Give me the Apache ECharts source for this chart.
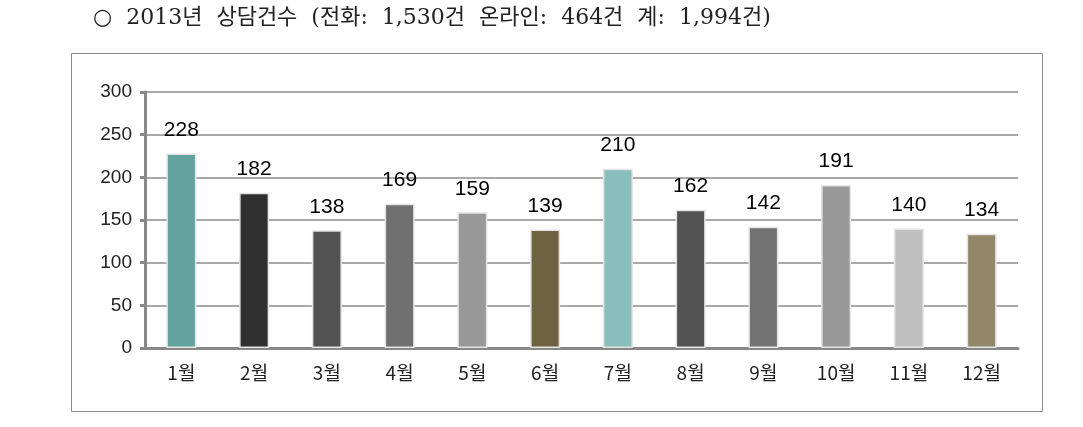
<!DOCTYPE html>
<html><head><meta charset="utf-8">
<script src="https://cdn.jsdelivr.net/npm/echarts@6/dist/echarts.min.js"></script>
<style>html,body{margin:0;padding:0;background:#fff}#c{width:1083px;height:427px}</style>
</head><body><div id="c"></div>
<script>
const categories = ['1월','2월','3월','4월','5월','6월','7월','8월','9월','10월','11월','12월'];
const values = [228,182,138,169,159,139,210,162,142,191,140,134];
const barColors = ['#62a39f','#303030','#525252','#707070','#999999','#6f6240','#88bfbc','#525252','#727272','#999999','#c0c0c0','#928768'];
const yTicks = [0,50,100,150,200,250,300];
const titleText = '○  2013년  상담건수  (전화:  1,530건  온라인:  464건  계:  1,994건)';

const chart = echarts.init(document.getElementById('c'), null, {renderer:'canvas'});
chart.setOption({
  animation:false,
  backgroundColor:'#fff',
  graphic:[
    {type:'rect', shape:{x:71.5,y:53.5,width:971,height:358}, style:{fill:'none', stroke:'#8c8c8c', lineWidth:1}, z:-1},
    {type:'text', left:93, top:7, style:{text:titleText, font:'22px "DejaVu Serif", "Noto Sans CJK KR", serif', fill:'#222'}}
  ],
  grid:{left:145, right:65, top:92, bottom:79, containLabel:false},
  xAxis:{
    type:'category', data:categories,
    axisLine:{show:true, lineStyle:{color:'#888', width:3}},
    axisTick:{show:false},
    axisLabel:{color:'#222', fontSize:19, margin:15, fontFamily:'"Noto Sans CJK KR", sans-serif'}
  },
  yAxis:{
    type:'value', min:0, max:300, interval:50,
    axisLine:{show:true, lineStyle:{color:'#888', width:3}},
    axisTick:{show:true, inside:false, length:5, lineStyle:{color:'#888', width:3}},
    axisLabel:{color:'#222', fontSize:19, margin:13, fontFamily:'Arial, "Liberation Sans", sans-serif',
      formatter:v=>yTicks.includes(v)?String(v):''},
    splitLine:{show:true, lineStyle:{color:'#8c8c8c', width:1.5}}
  },
  series:[{
    type:'bar', barWidth:30,
    data: values.map((v,i)=>({value:v, itemStyle:{color:barColors[i]}})),
    itemStyle:{borderColor:'#e4e4e4', borderWidth:1.5},
    label:{show:true, position:'top', distance:13, color:'#000', fontSize:21, fontFamily:'Arial, "Liberation Sans", sans-serif'}
  }]
});
</script></body></html>
